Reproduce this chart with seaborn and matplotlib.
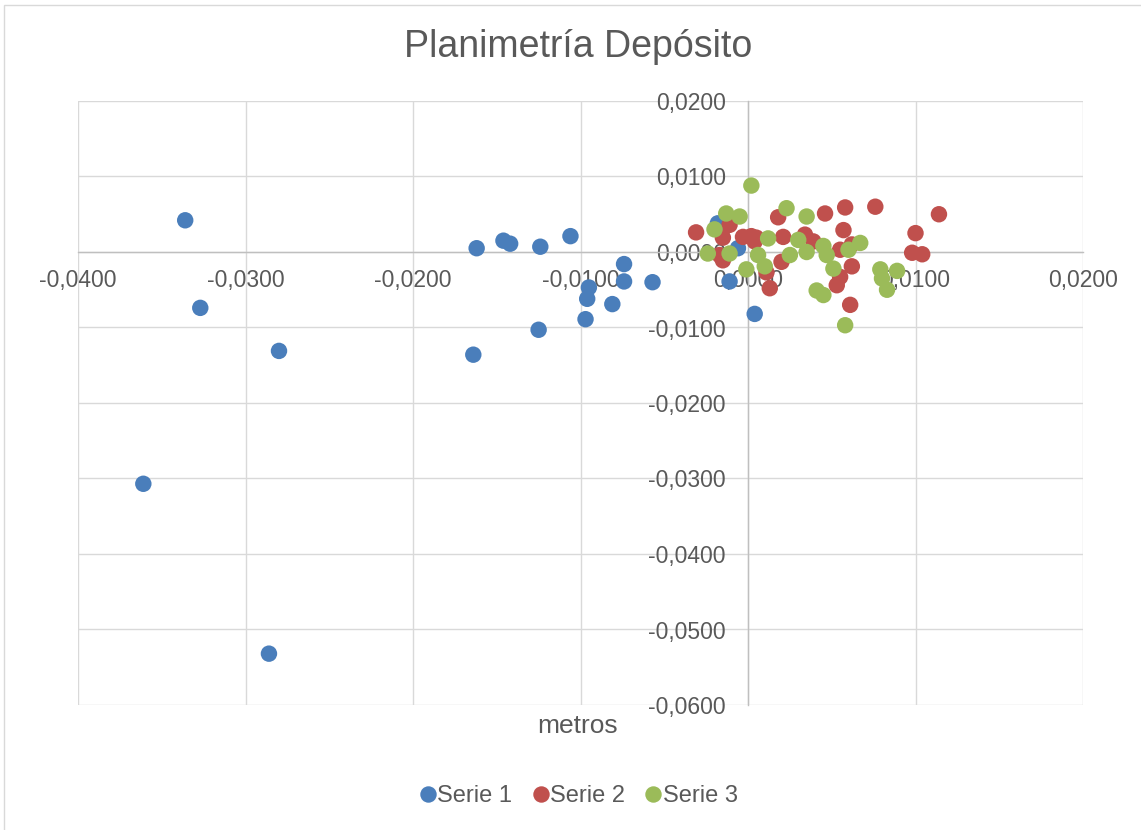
import matplotlib
matplotlib.use("Agg")
import matplotlib.pyplot as plt
from matplotlib.ticker import FuncFormatter, MultipleLocator
from matplotlib.patches import Rectangle
import seaborn as sns
import pandas as pd

# Serie 1
s1_x = [-0.0336, -0.0327, -0.0280, -0.0361, -0.0286, -0.0162, -0.0164, -0.0146,
        -0.0142, -0.0124, -0.0106, -0.0125, -0.0074, -0.0074, -0.0057, -0.0095,
        -0.0096, -0.0081, -0.0097, -0.0018, -0.0006, -0.0011, 0.0004]
s1_y = [0.0042, -0.0074, -0.0131, -0.0307, -0.0532, 0.0005, -0.0136, 0.0015,
        0.0011, 0.0007, 0.0021, -0.0103, -0.0016, -0.0039, -0.0040, -0.0047,
        -0.0062, -0.0069, -0.0089, 0.0038, 0.0005, -0.0039, -0.0082]

# Serie 2
s2_x = [-0.0031, -0.0015, -0.0011, -0.0015, -0.0017, -0.0003, 0.0002, 0.0005,
        0.0004, 0.0018, 0.0021, 0.0020, 0.0011, 0.0013, 0.0034, 0.0039,
        0.0046, 0.0058, 0.0057, 0.0055, 0.0062, 0.0062, 0.0055, 0.0053,
        0.0061, 0.0076, 0.0100, 0.0098, 0.0104, 0.0114]
s2_y = [0.0026, 0.0019, 0.0036, -0.0011, -0.0004, 0.0020, 0.0021, 0.0019,
        0.0014, 0.0046, 0.0020, -0.0013, -0.0027, -0.0048, 0.0023, 0.0014,
        0.0051, 0.0059, 0.0029, 0.0003, 0.0010, -0.0019, -0.0033, -0.0044,
        -0.0070, 0.0060, 0.0025, -0.0001, -0.0003, 0.0050]

# Serie 3
s3_x = [0.0002, -0.0013, -0.0005, -0.0020, -0.0011, -0.0024, 0.0006, -0.0001,
        0.0010, 0.0012, 0.0023, 0.0025, 0.0030, 0.0035, 0.0035, 0.0045,
        0.0047, 0.0051, 0.0041, 0.0045, 0.0058, 0.0060, 0.0067, 0.0079,
        0.0089, 0.0080, 0.0083]
s3_y = [0.0088, 0.0051, 0.0047, 0.0030, -0.0002, -0.0002, -0.0004, -0.0023,
        -0.0019, 0.0018, 0.0058, -0.0004, 0.0016, 0.0047, 0.0000, 0.0008,
        -0.0004, -0.0022, -0.0051, -0.0057, -0.0097, 0.0003, 0.0012, -0.0023,
        -0.0025, -0.0035, -0.0050]

series_names = ["Serie 1", "Serie 2", "Serie 3"]
colors = ["#4A7EBB", "#C0504D", "#9BBB59"]

df = pd.concat([
    pd.DataFrame({"x": s1_x, "y": s1_y, "serie": series_names[0]}),
    pd.DataFrame({"x": s2_x, "y": s2_y, "serie": series_names[1]}),
    pd.DataFrame({"x": s3_x, "y": s3_y, "serie": series_names[2]}),
], ignore_index=True)

sns.set_theme(style="white")
plt.rcParams["font.family"] = ["Liberation Sans", "DejaVu Sans"]

W, H = 1141, 830
fig = plt.figure(figsize=(W / 100, H / 100), dpi=100)
ax = fig.add_axes([78 / W, 1 - 705 / H, (1083 - 78) / W, (705 - 101) / H])

sns.scatterplot(data=df, x="x", y="y", hue="serie", palette=colors,
                s=140, linewidth=0, alpha=1, ax=ax, zorder=3)

ax.set_xlim(-0.04, 0.02)
ax.set_ylim(-0.06, 0.02)
ax.xaxis.set_major_locator(MultipleLocator(0.01))
ax.yaxis.set_major_locator(MultipleLocator(0.01))

fmt = FuncFormatter(lambda v, p: ("%.4f" % (0.0 if abs(v) < 1e-12 else v)).replace(".", ","))
ax.xaxis.set_major_formatter(fmt)
ax.yaxis.set_major_formatter(fmt)

ax.grid(True, color="#D9D9D9", linewidth=1.0, zorder=0)
ax.set_axisbelow(True)

for side in ("top", "right"):
    ax.spines[side].set_visible(False)
ax.spines["left"].set_position(("data", 0))
ax.spines["bottom"].set_position(("data", 0))
for side in ("left", "bottom"):
    ax.spines[side].set_color("#BFBFBF")
    ax.spines[side].set_linewidth(1.0)

ax.tick_params(axis="both", length=0, labelsize=16.5, colors="#595959")
ax.tick_params(axis="x", pad=12)
ax.tick_params(axis="y", pad=16)
ax.set_xlabel("")
ax.set_ylabel("")

fig.text(578 / W, 1 - 47 / H, "Planimetría Depósito", ha="center", va="center",
         fontsize=27, color="#595959")
fig.text(578 / W, 1 - 726 / H, "metros", ha="center", va="center",
         fontsize=19, color="#595959")

sns.move_legend(ax, "center", bbox_to_anchor=(578 / W, 1 - 796 / H),
                bbox_transform=fig.transFigure, ncol=3, frameon=False, title=None,
                fontsize=17, handletextpad=0.0, handlelength=0.8,
                columnspacing=0.8, markerscale=1.0)
leg = ax.get_legend()
for t in leg.get_texts():
    t.set_color("#595959")

fig.patches.append(Rectangle((4 / W, -0.01), 1, 1.01 - 5 / H, transform=fig.transFigure,
                             fill=False, edgecolor="#D9D9D9", linewidth=1.0))

fig.savefig("out.png", dpi=100)
